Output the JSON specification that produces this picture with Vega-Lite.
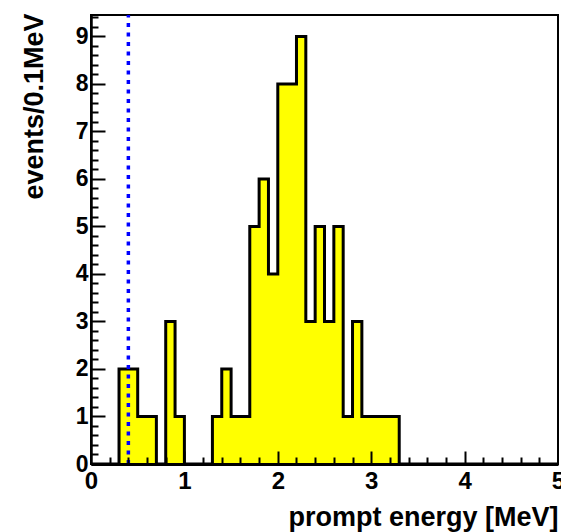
{
  "$schema": "https://vega.github.io/schema/vega-lite/v6.json",
  "width": 467,
  "height": 449,
  "autosize": {"type": "none"},
  "padding": {"left": 91, "top": 15, "right": 3, "bottom": 68},
  "background": "white",
  "config": {
    "view": {"stroke": "black", "strokeWidth": 2},
    "axis": {
      "labelFont": "Liberation Sans",
      "labelFontWeight": "bold",
      "labelColor": "black",
      "titleFont": "Liberation Sans",
      "titleFontWeight": "bold",
      "titleColor": "black",
      "titleFontSize": 27,
      "domainColor": "black",
      "grid": false
    }
  },
  "datasets": {
    "hist": [
      {"energy": 0.0, "events": 0}, {"energy": 0.1, "events": 0}, {"energy": 0.2, "events": 0},
      {"energy": 0.3, "events": 2}, {"energy": 0.4, "events": 2}, {"energy": 0.5, "events": 1},
      {"energy": 0.6, "events": 1}, {"energy": 0.7, "events": 0}, {"energy": 0.8, "events": 3},
      {"energy": 0.9, "events": 1}, {"energy": 1.0, "events": 0}, {"energy": 1.1, "events": 0},
      {"energy": 1.2, "events": 0}, {"energy": 1.3, "events": 1}, {"energy": 1.4, "events": 2},
      {"energy": 1.5, "events": 1}, {"energy": 1.6, "events": 1}, {"energy": 1.7, "events": 5},
      {"energy": 1.8, "events": 6}, {"energy": 1.9, "events": 4}, {"energy": 2.0, "events": 8},
      {"energy": 2.1, "events": 8}, {"energy": 2.2, "events": 9}, {"energy": 2.3, "events": 3},
      {"energy": 2.4, "events": 5}, {"energy": 2.5, "events": 3}, {"energy": 2.6, "events": 5},
      {"energy": 2.7, "events": 1}, {"energy": 2.8, "events": 3}, {"energy": 2.9, "events": 1},
      {"energy": 3.0, "events": 1}, {"energy": 3.1, "events": 1}, {"energy": 3.2, "events": 1},
      {"energy": 3.3, "events": 0}, {"energy": 3.4, "events": 0}, {"energy": 3.5, "events": 0},
      {"energy": 3.6, "events": 0}, {"energy": 3.7, "events": 0}, {"energy": 3.8, "events": 0},
      {"energy": 3.9, "events": 0}, {"energy": 4.0, "events": 0}, {"energy": 4.1, "events": 0},
      {"energy": 4.2, "events": 0}, {"energy": 4.3, "events": 0}, {"energy": 4.4, "events": 0},
      {"energy": 4.5, "events": 0}, {"energy": 4.6, "events": 0}, {"energy": 4.7, "events": 0},
      {"energy": 4.8, "events": 0}, {"energy": 4.9, "events": 0}, {"energy": 5.0, "events": 0}
    ]
  },
  "layer": [
    {
      "data": {"name": "hist"},
      "mark": {"type": "area", "interpolate": "step-after", "color": "#ffff00", "opacity": 1},
      "encoding": {
        "x": {
          "field": "energy", "type": "quantitative",
          "scale": {"domain": [0, 5], "nice": false, "zero": false},
          "axis": {
            "orient": "bottom", "zindex": 1,
            "values": [0, 1, 2, 3, 4, 5], "format": "d",
            "ticks": false,
            "domainWidth": 3,
            "labelFontSize": 24, "labelPadding": 5, "labelFlush": false,
            "title": "prompt energy [MeV]",
            "titleAnchor": "end", "titleAlign": "right", "titleBaseline": "alphabetic",
            "titleX": 467, "titleY": 61
          }
        },
        "y": {
          "field": "events", "type": "quantitative",
          "scale": {"domain": [0, 9.45], "nice": false},
          "axis": {
            "orient": "left", "zindex": 1,
            "values": [0, 1, 2, 3, 4, 5, 6, 7, 8, 9], "format": "d",
            "ticks": false,
            "domainWidth": 2.5,
            "labelFontSize": 23, "labelPadding": 3, "labelFlush": false,
            "title": "events/0.1MeV",
            "titleAngle": -90, "titleAlign": "right", "titleBaseline": "alphabetic",
            "titleX": -49, "titleY": -2
          }
        }
      }
    },
    {
      "data": {"name": "hist"},
      "mark": {"type": "line", "interpolate": "step-after", "color": "black", "strokeWidth": 3},
      "encoding": {
        "x": {
          "field": "energy", "type": "quantitative",
          "scale": {"domain": [0, 5], "nice": false, "zero": false},
          "axis": {
            "orient": "top", "offset": -449, "zindex": 2,
            "values": [1, 2, 3, 4],
            "ticks": true, "tickColor": "#000000", "tickSize": 13, "tickWidth": 2,
            "labels": false, "domain": false, "title": null
          }
        },
        "y": {
          "field": "events", "type": "quantitative",
          "scale": {"domain": [0, 9.45], "nice": false},
          "axis": {
            "orient": "right", "offset": -467, "zindex": 2,
            "values": [1, 2, 3, 4, 5, 6, 7, 8, 9],
            "ticks": true, "tickColor": "#000000", "tickSize": 14, "tickWidth": 2,
            "labels": false, "domain": false, "title": null
          }
        }
      }
    },
    {
      "data": {"values": [{"threshold": 0.4}]},
      "mark": {"type": "rule", "color": "#0000ff", "strokeWidth": 3.5, "strokeDash": [4, 5.5], "strokeCap": "butt"},
      "encoding": {
        "x": {
          "field": "threshold", "type": "quantitative",
          "axis": {
            "orient": "top", "offset": -449, "zindex": 2,
            "values": [0.2, 0.4, 0.6, 0.8, 1.2, 1.4, 1.6, 1.8, 2.2, 2.4, 2.6, 2.8, 3.2, 3.4, 3.6, 3.8, 4.2, 4.4, 4.6, 4.8],
            "ticks": true, "tickColor": "#000000", "tickSize": 7, "tickWidth": 2,
            "labels": false, "domain": false, "title": null
          }
        },
        "y": {
          "datum": 0, "type": "quantitative",
          "axis": {
            "orient": "right", "offset": -467, "zindex": 2,
            "values": [0.2, 0.4, 0.6, 0.8, 1.2, 1.4, 1.6, 1.8, 2.2, 2.4, 2.6, 2.8, 3.2, 3.4, 3.6, 3.8, 4.2, 4.4, 4.6, 4.8, 5.2, 5.4, 5.6, 5.8, 6.2, 6.4, 6.6, 6.8, 7.2, 7.4, 7.6, 7.8, 8.2, 8.4, 8.6, 8.8, 9.2, 9.4],
            "ticks": true, "tickColor": "#000000", "tickSize": 7, "tickWidth": 2,
            "labels": false, "domain": false, "title": null
          }
        },
        "y2": {"datum": 9.45}
      }
    }
  ],
  "resolve": {"axis": {"x": "independent", "y": "independent"}}
}
